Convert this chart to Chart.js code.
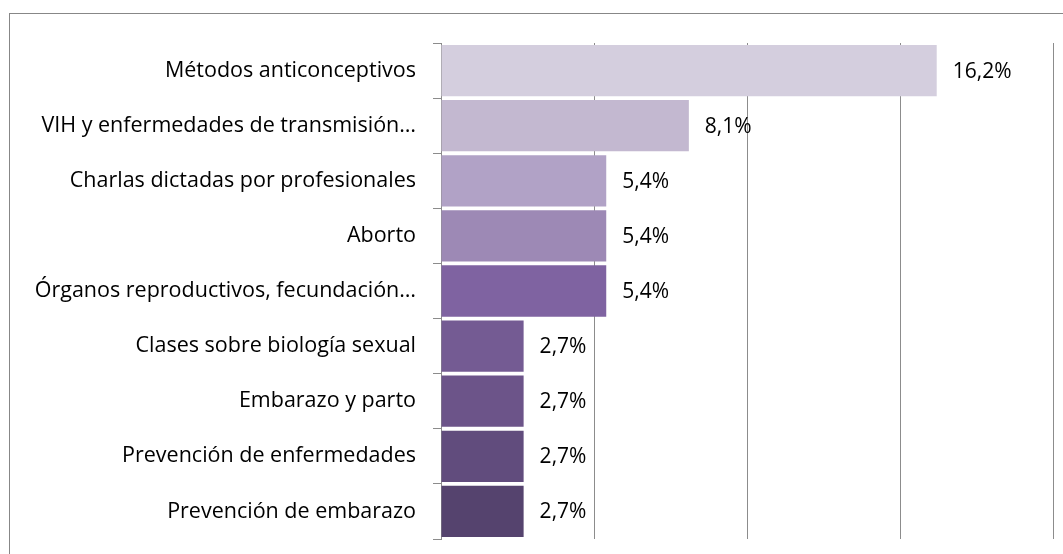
<!DOCTYPE html>
<html>
<head>
<meta charset="utf-8">
<script src="https://cdn.jsdelivr.net/npm/chart.js@4"></script>
<style>
  html, body { margin: 0; padding: 0; background: #fff; }
  #wrap { position: relative; width: 1063px; height: 554px; overflow: hidden; }
  #frame { position: absolute; left: 9px; top: 13px; width: 1100px; height: 600px;
           border-left: 1.5px solid #878787; border-top: 1.5px solid #878787; }
  #wrap canvas { position: absolute; left: 0; top: 0; }
</style>
</head>
<body>
<div id="wrap">
  <div id="frame"></div>
  <canvas id="grafico" width="1063" height="554"></canvas>
</div>
<script>
// ── Datos ─────────────
const categorias = [
  'Métodos anticonceptivos',
  'VIH y enfermedades de transmisión…',
  'Charlas dictadas por profesionales',
  'Aborto',
  'Órganos reproductivos, fecundación…',
  'Clases sobre biología sexual',
  'Embarazo y parto',
  'Prevención de enfermedades',
  'Prevención de embarazo'
];
const porcentajes = [16.2, 8.1, 5.4, 5.4, 5.4, 2.7, 2.7, 2.7, 2.7];
const colores = ['#D4CEDE', '#C3B8D0', '#B1A2C6', '#9D89B5', '#7F63A1', '#745B93', '#6C5489', '#614C7D', '#55436E'];
const ejeMax = 20;
const ejePaso = 5;

const FUENTE = '"Open Sans", sans-serif';

// etiquetas al final de cada barra
const etiquetasBarras = {
  id: 'etiquetasBarras',
  afterDatasetsDraw(chart) {
    const { ctx } = chart;
    const meta = chart.getDatasetMeta(0);
    ctx.save();
    ctx.font = '21px ' + FUENTE;
    ctx.fillStyle = '#000';
    ctx.textAlign = 'left';
    ctx.textBaseline = 'middle';
    meta.data.forEach((bar, i) => {
      const txt = porcentajes[i].toFixed(1).replace('.', ',') + '%';
      ctx.fillText(txt, bar.x + 16, bar.y + 1);
    });
    ctx.restore();
  }
};

new Chart(document.getElementById('grafico'), {
  type: 'bar',
  data: {
    labels: categorias,
    datasets: [{
      data: porcentajes,
      backgroundColor: colores,
      borderWidth: 0,
      barPercentage: 0.93,
      categoryPercentage: 1.0
    }]
  },
  options: {
    indexAxis: 'y',
    responsive: false,
    animation: false,
    layout: { padding: { top: 43, bottom: 15, right: 10, left: 0 } },
    plugins: {
      legend: { display: false },
      tooltip: { enabled: false }
    },
    scales: {
      x: {
        min: 0,
        max: ejeMax,
        afterFit: s => { s.height = 0; s.paddingLeft = 0; s.paddingRight = 0; },
        ticks: { display: false, stepSize: ejePaso },
        grid: { color: '#8C8C8C', lineWidth: 1, drawTicks: false },
        border: { display: false }
      },
      y: {
        afterFit: s => { s.width = 441; s.paddingTop = 0; s.paddingBottom = 0; },
        ticks: {
          color: '#000',
          font: { family: FUENTE, size: 21.5 },
          padding: 17
        },
        grid: { drawOnChartArea: false, drawTicks: true, tickLength: 8, color: '#8C8C8C' },
        border: { display: true, color: '#8C8C8C', width: 1 }
      }
    }
  },
  plugins: [etiquetasBarras]
});
</script>
</body>
</html>
